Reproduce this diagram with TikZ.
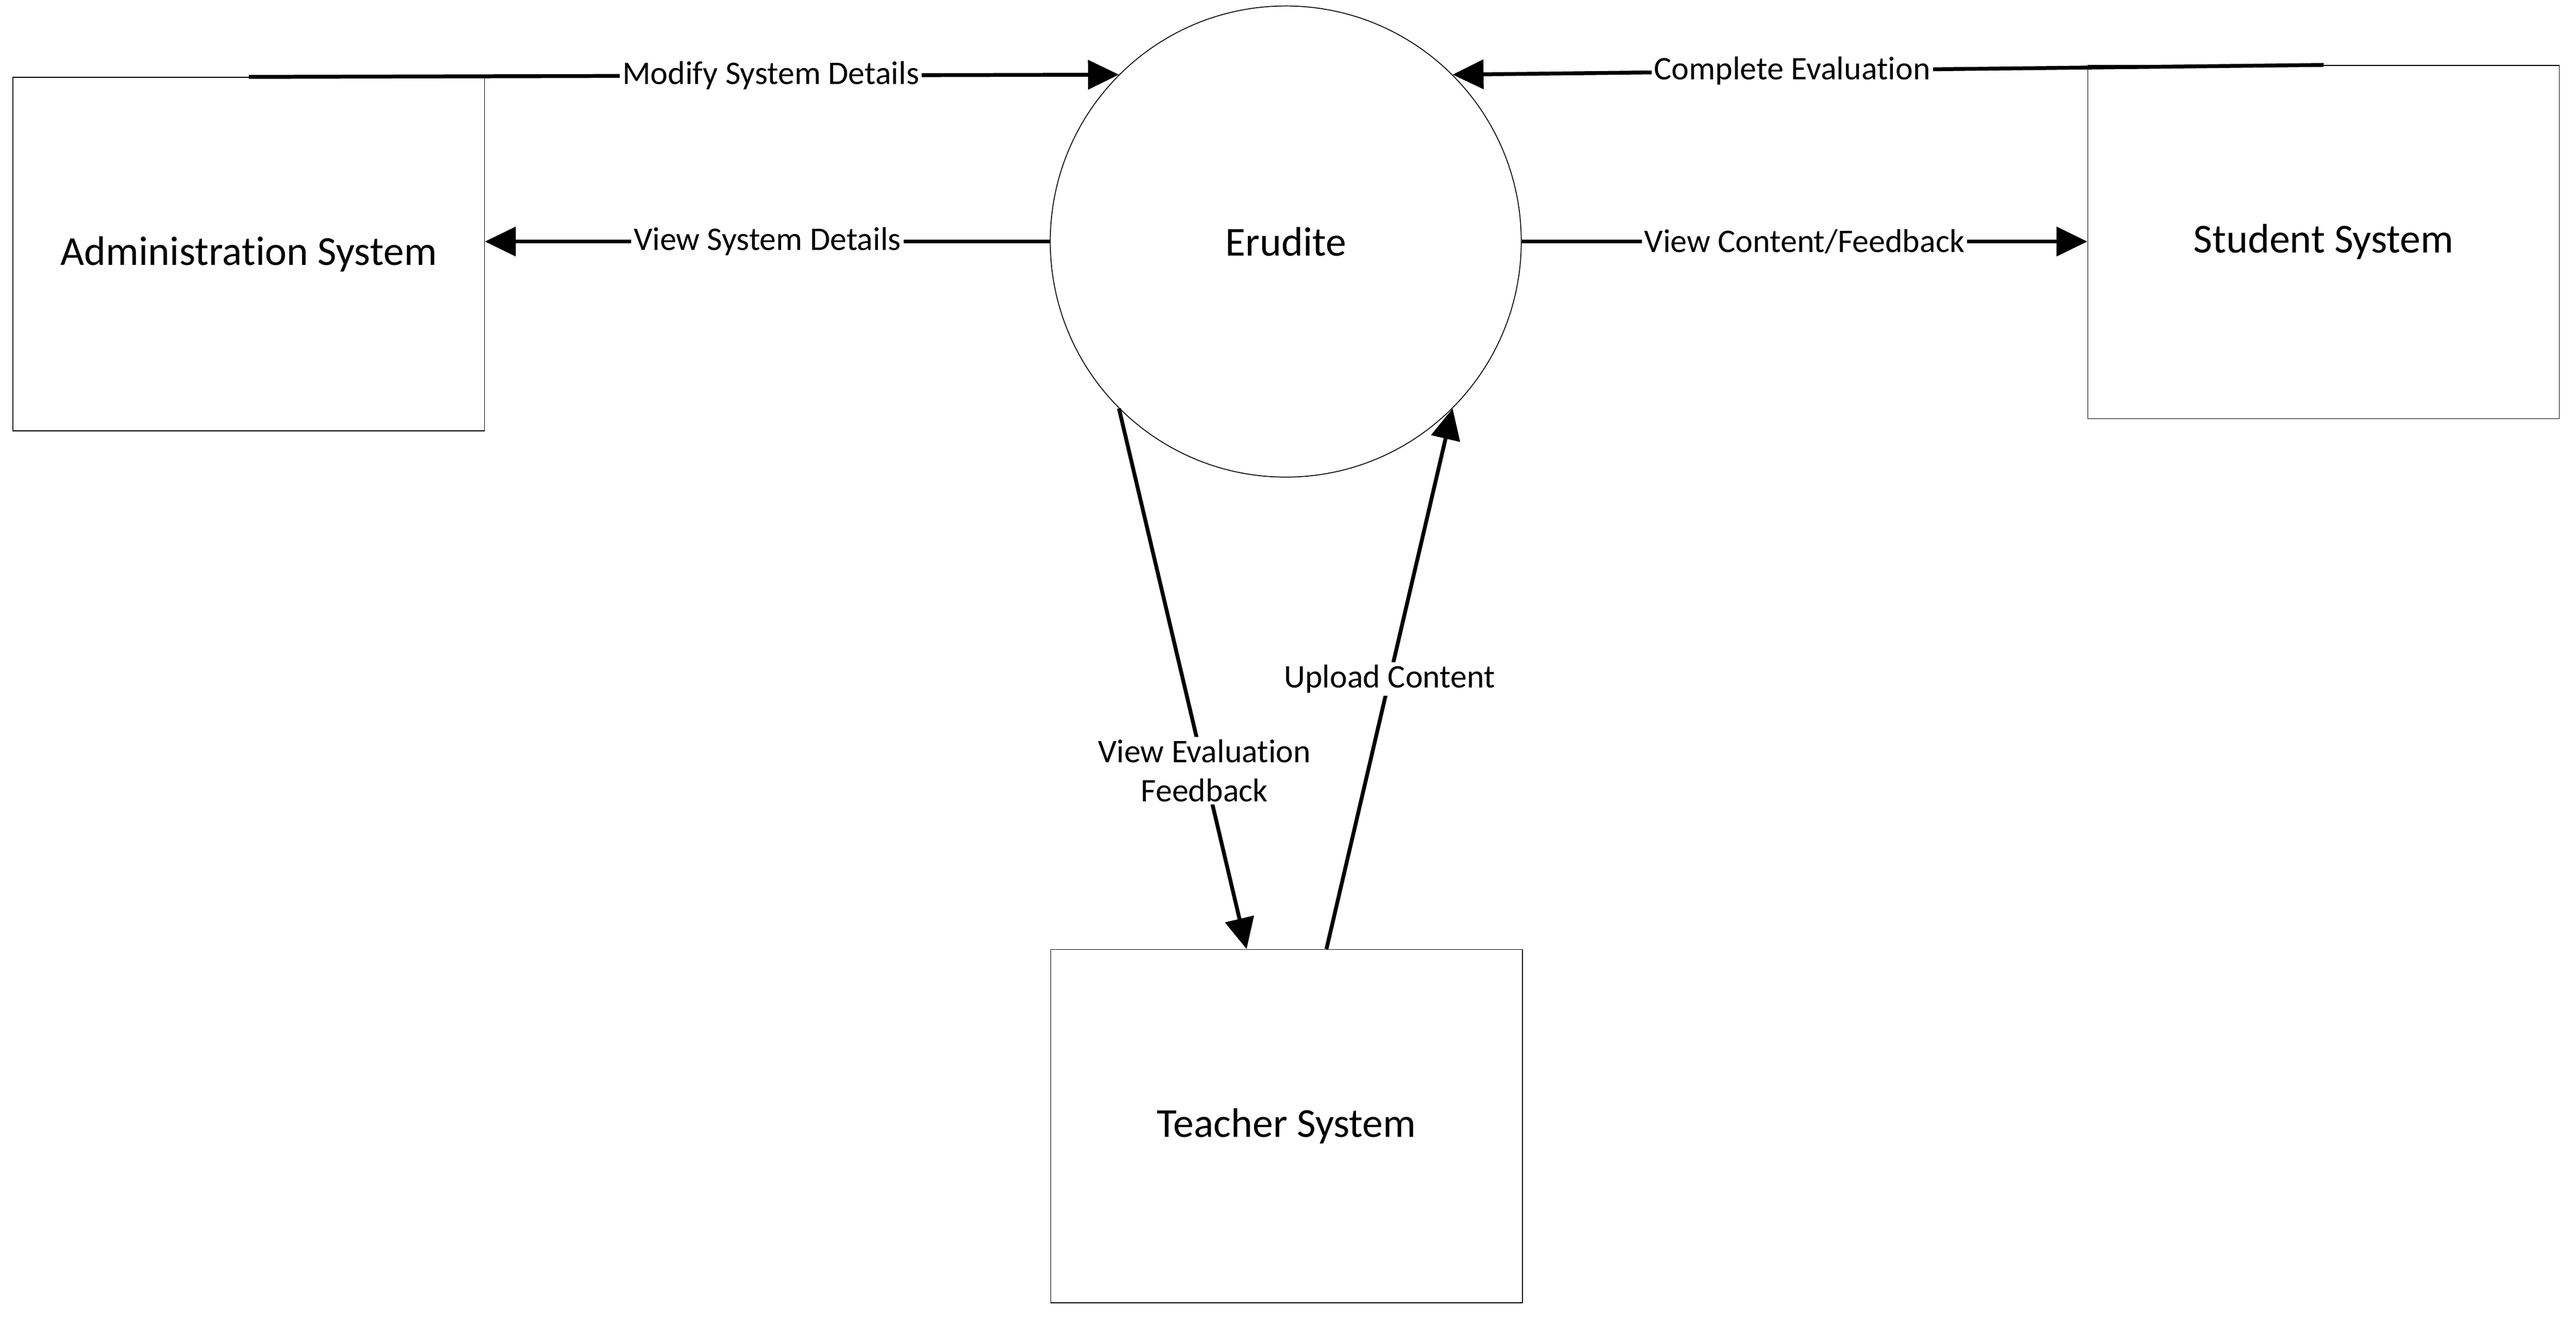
\documentclass[tikz,border=0pt]{standalone}
\usepackage{fontspec}
\setmainfont{Carlito}[RawFeature={-liga}]
\usetikzlibrary{arrows.meta,positioning}
\tikzset{
  sysbox/.style={draw,line width=0.5pt,minimum width=9.45cm,minimum height=7.08cm,font=\fontsize{23.5}{28}\selectfont},
  proc/.style={circle,draw,line width=0.5pt,minimum size=9.44cm,font=\fontsize{23.5}{28}\selectfont},
  flow/.style={line width=2.2pt,->},
  lbl/.style={fill=white,inner sep=1.5pt,font=\fontsize{18.8}{22.5}\selectfont}
}
\begin{document}
\begin{tikzpicture}[>={Triangle[length=0.62cm,width=0.58cm]},x=1.0cm,y=1.0cm]
\useasboundingbox (0,0) rectangle (51.63,26.56);
\node[sysbox] (admin) at (4.985,21.47) {Administration System};
\node[proc] (erudite) at (25.77,21.72) {Erudite};
\node[sysbox] (student) at (46.57,21.71) {Student System};
\node[sysbox] (teacher) at (25.785,3.995) {Teacher System};
\draw[flow] (admin.north) -- node[lbl,pos=0.6]{Modify System Details} (erudite.135);
\draw[flow] (erudite.west) -- node[lbl,pos=0.5]{View System Details} (erudite.west -| admin.east);
\draw[flow] (student.north) -- node[lbl,pos=0.61]{Complete Evaluation} (erudite.45);
\draw[flow] (erudite.east) -- node[lbl,pos=0.5]{View Content/Feedback} (erudite.east -| student.west);
\draw[flow] (erudite.225) -- node[lbl,pos=0.67,align=center]{View Evaluation\\Feedback} ([xshift=-0.8cm]teacher.north);
\draw[flow] ([xshift=0.8cm]teacher.north) -- node[lbl,pos=0.5]{Upload Content} (erudite.315);
\end{tikzpicture}
\end{document}
